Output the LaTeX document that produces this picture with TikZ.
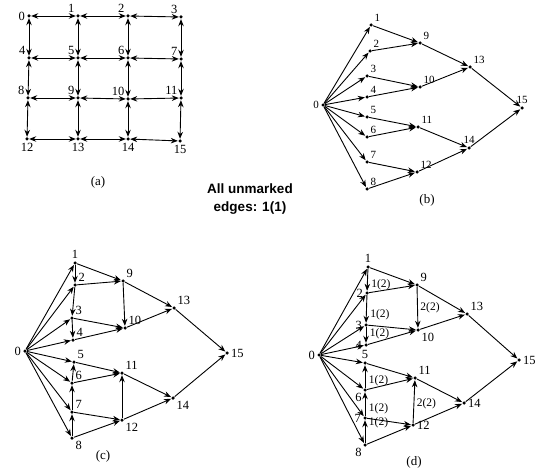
\documentclass[tikz,border=0pt]{standalone}
\usepackage{fontspec}
\setmainfont{Liberation Serif}
\setsansfont{Liberation Sans}
\usetikzlibrary{arrows.meta}

\begin{document}
\begin{tikzpicture}[x=1pt, y=-1pt, line width=0.9pt,
        vtx/.style={circle, fill, inner sep=0pt, minimum size=3.5pt},
        arc/.style={-{Stealth[length=7pt, width=5.5pt]}},
        twoway/.style={{Stealth[length=7pt, width=5.5pt]}-{Stealth[length=7pt, width=5.5pt]}},
        every label/.style={font=\fontsize{12.5}{12.5}\selectfont, inner sep=1.5pt},
        wt/.style={font=\fontsize{11.5}{11.5}\selectfont, inner sep=0.5pt, anchor=west},
        sublbl/.style={font=\fontsize{13}{13}\selectfont}]
      \useasboundingbox (0,0) rectangle (548,470);
      % (a) the 4x4 grid
      \node[vtx, label=left:0] (a0) at (29,16) {};
      \node[vtx, label=above left:1] (a1) at (78,16) {};
      \node[vtx, label=above left:2] (a2) at (128,16) {};
      \node[vtx, label=above left:3] (a3) at (181,17) {};
      \node[vtx, label=above left:4] (a4) at (29,58) {};
      \node[vtx, label=above left:5] (a5) at (78,58) {};
      \node[vtx, label=above left:6] (a6) at (128,58) {};
      \node[vtx, label=above left:7] (a7) at (181,59) {};
      \node[vtx, label=above left:8] (a8) at (28,98) {};
      \node[vtx, label=above left:9] (a9) at (78,98) {};
      \node[vtx, label=above left:10] (a10) at (128,99) {};
      \node[vtx, label=above left:11] (a11) at (181,98) {};
      \node[vtx, label=below:12] (a12) at (27,139) {};
      \node[vtx, label=below:13] (a13) at (78,139) {};
      \node[vtx, label=below:14] (a14) at (128,139) {};
      \node[vtx, label=below:15] (a15) at (180,141) {};
      \draw (a0) edge[twoway] (a1) edge[twoway] (a4);
      \draw (a1) edge[twoway] (a2) edge[twoway] (a5);
      \draw (a2) edge[twoway] (a3) edge[twoway] (a6);
      \draw (a3) edge[twoway] (a7);
      \draw (a4) edge[twoway] (a5) edge[twoway] (a8);
      \draw (a5) edge[twoway] (a6) edge[twoway] (a9);
      \draw (a6) edge[twoway] (a7) edge[twoway] (a10);
      \draw (a7) edge[twoway] (a11);
      \draw (a8) edge[twoway] (a9) edge[twoway] (a12);
      \draw (a9) edge[twoway] (a10) edge[twoway] (a13);
      \draw (a10) edge[twoway] (a11) edge[twoway] (a14);
      \draw (a11) edge[twoway] (a15);
      \draw (a12) edge[twoway] (a13);
      \draw (a13) edge[twoway] (a14);
      \draw (a14) edge[twoway] (a15);
      \node[sublbl] (capA) at (98,182) {(a)};

      % (b) fan out from 0
      \begin{scope}[every label/.append style={font=\fontsize{11}{11}\selectfont}]
      \node[vtx, label=left:0] (b0) at (323,105) {};
      \node[vtx, label=above right:1] (b1) at (371,25) {};
      \node[vtx, label=above right:2] (b2) at (370,51) {};
      \node[vtx, label=above right:3] (b3) at (367,76) {};
      \node[vtx, label=above right:4] (b4) at (367,97) {};
      \node[vtx, label=above right:5] (b5) at (367,117) {};
      \node[vtx, label=above right:6] (b6) at (367,137) {};
      \node[vtx, label=above right:7] (b7) at (367,162) {};
      \node[vtx, label=above right:8] (b8) at (367,189) {};
      \node[vtx, label=above right:9] (b9) at (420,43) {};
      \node[vtx, label=above right:10] (b10) at (420,87) {};
      \node[vtx, label=above right:11] (b11) at (418,127) {};
      \node[vtx, label=above right:12] (b12) at (417,172) {};
      \node[vtx, label=above right:13] (b13) at (470,67) {};
      \node[vtx, label=above:14] (b14) at (469,148) {};
      \node[vtx, label=above:15] (b15) at (522,108) {};
      \end{scope}
      \draw (b0) edge[arc] (b1) edge[arc] (b2) edge[arc] (b3) edge[arc] (b4)
                 edge[arc] (b5) edge[arc] (b6) edge[arc] (b7) edge[arc] (b8);
      \draw (b1) edge[arc] (b9);  \draw (b2) edge[arc] (b9);
      \draw (b3) edge[arc] (b10); \draw (b4) edge[arc] (b10);
      \draw (b5) edge[arc] (b11); \draw (b6) edge[arc] (b11);
      \draw (b7) edge[arc] (b12); \draw (b8) edge[arc] (b12);
      \draw (b9) edge[arc] (b13); \draw (b10) edge[arc] (b13);
      \draw (b11) edge[arc] (b14); \draw (b12) edge[arc] (b14);
      \draw (b13) edge[arc] (b15); \draw (b14) edge[arc] (b15);
      \node[sublbl] (capB) at (427,200) {(b)};

      \node[font=\fontsize{13.5}{18}\selectfont\sffamily\bfseries, align=center] (NOTE) at (250,199) {All unmarked\\edges: 1(1)};

      % (c) with the chain edges added
      \node[vtx, label=left:0] (c0) at (25,351) {};
      \node[vtx, label=above:1] (c1) at (75,263) {};
      \node[vtx, label=above right:2] (c2) at (75,285) {};
      \node[vtx, label=above right:3] (c3) at (72,318) {};
      \node[vtx, label=above right:4] (c4) at (73,340) {};
      \node[vtx, label=above right:5] (c5) at (74,362) {};
      \node[vtx, label=above right:6] (c6) at (72,383) {};
      \node[vtx, label=above right:7] (c7) at (72,412) {};
      \node[vtx, label=below right:8] (c8) at (72,438) {};
      \node[vtx, label=above right:9] (c9) at (123,281) {};
      \node[vtx, label=above right:10] (c10) at (125,328) {};
      \node[vtx, label=above right:11] (c11) at (122,373) {};
      \node[vtx, label=below right:12] (c12) at (122,420) {};
      \node[vtx, label=above right:13] (c13) at (174,308) {};
      \node[vtx, label=below right:14] (c14) at (173,398) {};
      \node[vtx, label=right:15] (c15) at (227,353) {};
      \draw (c0) edge[arc] (c1) edge[arc] (c2) edge[arc] (c3) edge[arc] (c4)
                 edge[arc] (c5) edge[arc] (c6) edge[arc] (c7) edge[arc] (c8);
      \draw (c1) edge[arc] (c2) edge[arc] (c9);
      \draw (c2) edge[arc] (c3) edge[arc] (c9);
      \draw (c3) edge[arc] (c4) edge[arc] (c10);
      \draw (c4) edge[arc] (c10);
      \draw (c9) edge[arc] (c10) edge[arc] (c13);
      \draw (c10) edge[arc] (c13);
      \draw (c8) edge[arc] (c7) edge[arc] (c12);
      \draw (c7) edge[arc] (c6) edge[arc] (c12);
      \draw (c6) edge[arc] (c5) edge[arc] (c11);
      \draw (c5) edge[arc] (c11);
      \draw (c12) edge[arc] (c11) edge[arc] (c14);
      \draw (c11) edge[arc] (c14);
      \draw (c13) edge[arc] (c15); \draw (c14) edge[arc] (c15);
      \node[sublbl] (capC) at (103,456) {(c)};

      % (d) chain edges weighted
      \node[vtx, label=left:0] (d0) at (319,355) {};
      \node[vtx, label=above:1] (d1) at (368,267) {};
      \node[vtx, label=left:2] (d2) at (367,293) {};
      \node[vtx, label=left:3] (d3) at (366,325) {};
      \node[vtx, label=left:4] (d4) at (366,345) {};
      \node[vtx, label=above:5] (d5) at (365,363) {};
      \node[vtx, label=below left:6] (d6) at (365,390) {};
      \node[vtx, label=left:7] (d7) at (365,418) {};
      \node[vtx, label=below left:8] (d8) at (365,445) {};
      \node[vtx, label=above right:9] (d9) at (417,285) {};
      \node[vtx, label=below right:10] (d10) at (418,330) {};
      \node[vtx, label=above right:11] (d11) at (415,378) {};
      \node[vtx, label=right:12] (d12) at (413,425) {};
      \node[vtx, label=above right:13] (d13) at (467,314) {};
      \node[vtx, label=right:14] (d14) at (464,403) {};
      \node[vtx, label=right:15] (d15) at (519,360) {};
      \draw (d0) edge[arc] (d1) edge[arc] (d2) edge[arc] (d3) edge[arc] (d4)
                 edge[arc] (d5) edge[arc] (d6) edge[arc] (d7) edge[arc] (d8);
      \draw[arc] (d1) -- node[wt, pos=0.73, xshift=3pt] {1(2)} (d2);
      \draw[arc] (d2) -- node[wt, pos=0.7, xshift=3pt] {1(2)} (d3);
      \draw[arc] (d3) -- node[wt, pos=0.4, xshift=3pt] {1(2)} (d4);
      \draw[arc] (d9) -- node[wt, pos=0.5, xshift=2pt] {2(2)} (d10);
      \draw[arc] (d6) -- node[wt, pos=0.3, xshift=3pt] {1(2)} (d5);
      \draw[arc] (d7) -- node[wt, pos=0.32, xshift=3pt] {1(2)} (d6);
      \draw[arc] (d8) -- node[wt, pos=0.9, xshift=3pt] {1(2)} (d7);
      \draw[arc] (d12) -- node[wt, pos=0.45, xshift=2pt] {2(2)} (d11);
      \draw (d1) edge[arc] (d9);  \draw (d2) edge[arc] (d9);
      \draw (d3) edge[arc] (d10); \draw (d4) edge[arc] (d10);
      \draw (d5) edge[arc] (d11); \draw (d6) edge[arc] (d11);
      \draw (d7) edge[arc] (d12); \draw (d8) edge[arc] (d12);
      \draw (d9) edge[arc] (d13); \draw (d10) edge[arc] (d13);
      \draw (d11) edge[arc] (d14); \draw (d12) edge[arc] (d14);
      \draw (d13) edge[arc] (d15); \draw (d14) edge[arc] (d15);
      \node[sublbl] (capD) at (414,462) {(d)};
    \end{tikzpicture}
\end{document}
